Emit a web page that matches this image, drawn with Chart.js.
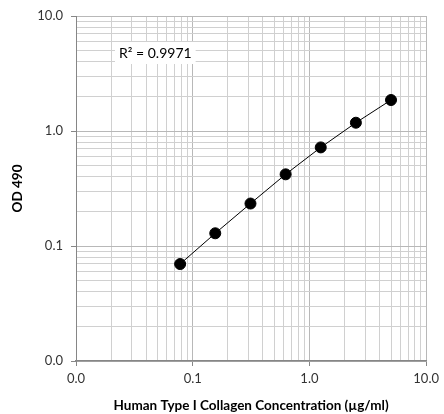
<!DOCTYPE html>
<html>
<head>
<meta charset="utf-8">
<script src="https://cdn.jsdelivr.net/npm/chart.js@4"></script>
<style>
  html, body { margin: 0; padding: 0; background: #fff; }
  #wrap { width: 444px; height: 414px; }
</style>
</head>
<body>
<div id="wrap"><canvas id="chart" width="444" height="414"></canvas></div>
<script>
// standard curve data
const concentrations = [0.078, 0.156, 0.3125, 0.625, 1.25, 2.5, 5];
const odValues = [0.0697, 0.129, 0.234, 0.42, 0.72, 1.18, 1.86];
const decades = [0.01, 0.1, 1, 10];
const minorSteps = [1, 2, 3, 4, 5, 6, 7, 8, 9];
const rSquaredLabel = 'R² = 0.9971';

const gridValues = [];
decades.forEach(d => {
  if (d === 10) { gridValues.push(d); return; }
  minorSteps.forEach(m => gridValues.push(+(d * m).toPrecision(3)));
});

const isDecade = v => decades.some(d => Math.abs(d - v) < d * 1e-6);

const fontFamily = 'Lato, "Open Sans", sans-serif';

function logAxis(titleText, isX) {
  return {
    type: 'logarithmic',
    min: 0.01,
    max: 10,
    afterBuildTicks: scale => {
      scale.ticks = gridValues.map(v => ({ value: v, major: isDecade(v) }));
    },
    afterFit: scale => {
      if (isX) scale.height = 53; else scale.width = 76;
    },
    border: { color: '#868686', width: isX ? 1.5 : 1 },
    grid: {
      color: ctx => (ctx.tick && isDecade(ctx.tick.value)) ? '#b8b8b8' : '#d0d0d0',
      tickColor: ctx => (ctx.tick && isDecade(ctx.tick.value)) ? '#868686' : 'rgba(0,0,0,0)',
      tickLength: 5,
      drawTicks: true
    },
    ticks: {
      autoSkip: false,
      maxRotation: 0,
      padding: isX ? 5 : 8,
      color: '#333',
      font: { family: fontFamily, size: 13 },
      callback: v => isDecade(v) ? v.toFixed(1) : ''
    },
    title: {
      display: true,
      text: titleText,
      color: '#000',
      font: { family: fontFamily, size: 13.5, weight: 'bold' },
      padding: isX ? { top: 11, bottom: 0 } : { top: 10, bottom: 0 }
    }
  };
}

const r2Plugin = {
  id: 'r2Label',
  afterDatasetsDraw(chart) {
    const { ctx, chartArea } = chart;
    const x = chartArea.left + 39;
    const y = chartArea.top + 26;
    ctx.save();
    ctx.font = '14px ' + fontFamily;
    const w = ctx.measureText(rSquaredLabel).width + 8;
    ctx.fillStyle = '#fff';
    ctx.fillRect(x, y, w, 22);
    ctx.fillStyle = '#000';
    ctx.textBaseline = 'middle';
    ctx.fillText(rSquaredLabel, x + 4, y + 11);
    ctx.restore();
  }
};

new Chart(document.getElementById('chart'), {
  type: 'scatter',
  data: {
    datasets: [{
      data: concentrations.map((c, i) => ({ x: c, y: odValues[i] })),
      showLine: true,
      borderColor: '#000',
      borderWidth: 1,
      backgroundColor: '#000',
      pointRadius: 5.5,
      pointHoverRadius: 5.5
    }]
  },
  options: {
    responsive: false,
    animation: false,
    layout: { padding: { top: 16, right: 11, left: 0, bottom: 0 } },
    plugins: {
      legend: { display: false },
      tooltip: { enabled: false }
    },
    scales: {
      x: logAxis('Human Type I Collagen Concentration (µg/ml)', true),
      y: logAxis('OD 490', false)
    }
  },
  plugins: [r2Plugin]
});
</script>
</body>
</html>
